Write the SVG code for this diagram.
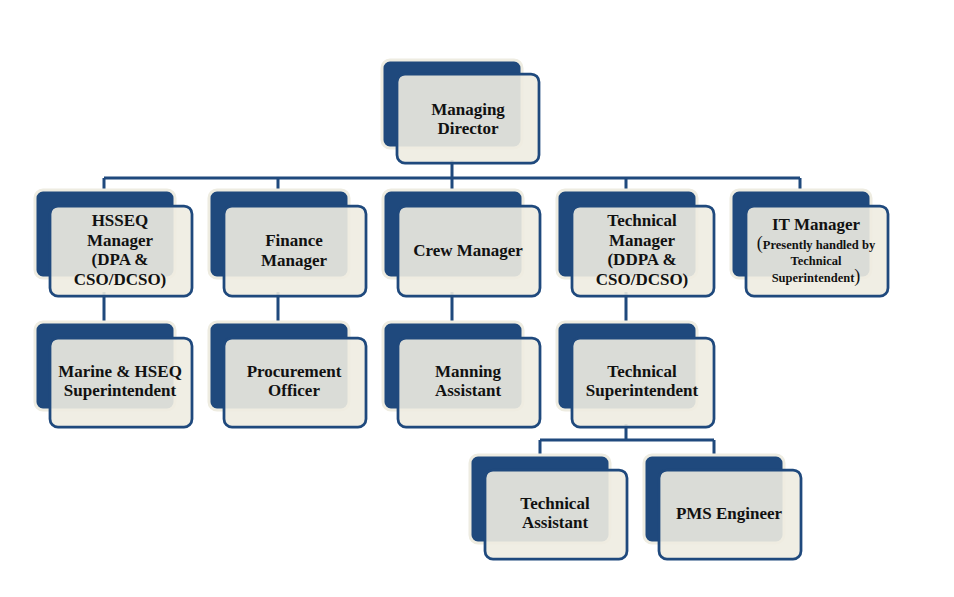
<svg xmlns="http://www.w3.org/2000/svg" width="954" height="597" viewBox="0 0 954 597">
<style>
.back{fill:#1F497D;stroke:#EEECE1;stroke-width:3}
.front{fill:#EEECE1;fill-opacity:0.9;stroke:#1F497D;stroke-width:2.75}
.conn{fill:none;stroke:#1F497D;stroke-width:3}
text{font-family:"Liberation Serif","Times New Roman",serif;font-weight:bold;font-size:17px;fill:#111;text-anchor:middle}
.sm{font-size:12.5px}
.par{font-size:18px;font-weight:normal}
</style>
<rect width="954" height="597" fill="#fff"/>
<g id="connectors">
<path class="conn" d="M452 160V178M104 178H800M104 178V192M278 178V192M452 178V192M626 178V192M800 178V192"/>
<path class="conn" d="M104 292V324M278 292V324M452 292V324M626 292V324"/>
<path class="conn" d="M626 424V440M540 440H714M540 440V457M714 440V457"/>
</g>
<g id="managing-director">
<rect class="back" x="382" y="60" width="140" height="88" rx="8"/>
<rect class="front" x="397" y="74" width="142" height="89" rx="8"/>
<text x="468" y="115">Managing</text><text x="468" y="134">Director</text>
</g>
<g id="hsseq-manager">
<rect class="back" x="35" y="190" width="140" height="88" rx="8"/>
<rect class="front" x="50" y="206" width="142" height="90" rx="8"/>
<text x="120" y="226">HSSEQ</text><text x="120" y="246">Manager</text><text x="120" y="265">(DPA &amp;</text><text x="120" y="285">CSO/DCSO)</text>
</g>
<g id="finance-manager">
<rect class="back" x="209" y="190" width="140" height="88" rx="8"/>
<rect class="front" x="224" y="206" width="142" height="90" rx="8"/>
<text x="294" y="246">Finance</text><text x="294" y="266">Manager</text>
</g>
<g id="crew-manager">
<rect class="back" x="383" y="190" width="140" height="88" rx="8"/>
<rect class="front" x="398" y="206" width="142" height="90" rx="8"/>
<text x="468" y="256">Crew Manager</text>
</g>
<g id="technical-manager">
<rect class="back" x="557" y="190" width="140" height="88" rx="8"/>
<rect class="front" x="572" y="206" width="142" height="90" rx="8"/>
<text x="642" y="226">Technical</text><text x="642" y="246">Manager</text><text x="642" y="265">(DDPA &amp;</text><text x="642" y="285">CSO/DCSO)</text>
</g>
<g id="it-manager">
<rect class="back" x="731" y="190" width="140" height="88" rx="8"/>
<rect class="front" x="746" y="206" width="142" height="90" rx="8"/>
<text x="816" y="230">IT Manager</text>
<text x="816" y="249" class="sm"><tspan class="par">(</tspan>Presently handled by</text>
<text x="816" y="265" class="sm">Technical</text>
<text x="816" y="282" class="sm">Superintendent<tspan class="par">)</tspan></text>
</g>
<g id="marine-hseq-superintendent">
<rect class="back" x="35" y="322" width="140" height="88" rx="8"/>
<rect class="front" x="50" y="338" width="142" height="89" rx="8"/>
<text x="120" y="377">Marine &amp; HSEQ</text><text x="120" y="396">Superintendent</text>
</g>
<g id="procurement-officer">
<rect class="back" x="209" y="322" width="140" height="88" rx="8"/>
<rect class="front" x="224" y="338" width="142" height="89" rx="8"/>
<text x="294" y="377">Procurement</text><text x="294" y="396">Officer</text>
</g>
<g id="manning-assistant">
<rect class="back" x="383" y="322" width="140" height="88" rx="8"/>
<rect class="front" x="398" y="338" width="142" height="89" rx="8"/>
<text x="468" y="377">Manning</text><text x="468" y="396">Assistant</text>
</g>
<g id="technical-superintendent">
<rect class="back" x="557" y="322" width="140" height="88" rx="8"/>
<rect class="front" x="572" y="338" width="142" height="89" rx="8"/>
<text x="642" y="377">Technical</text><text x="642" y="396">Superintendent</text>
</g>
<g id="technical-assistant">
<rect class="back" x="470" y="455" width="140" height="88" rx="8"/>
<rect class="front" x="485" y="470" width="142" height="89" rx="8"/>
<text x="555" y="509">Technical</text><text x="555" y="528">Assistant</text>
</g>
<g id="pms-engineer">
<rect class="back" x="644" y="455" width="140" height="88" rx="8"/>
<rect class="front" x="659" y="470" width="142" height="89" rx="8"/>
<text x="729" y="519">PMS Engineer</text>
</g>
</svg>
